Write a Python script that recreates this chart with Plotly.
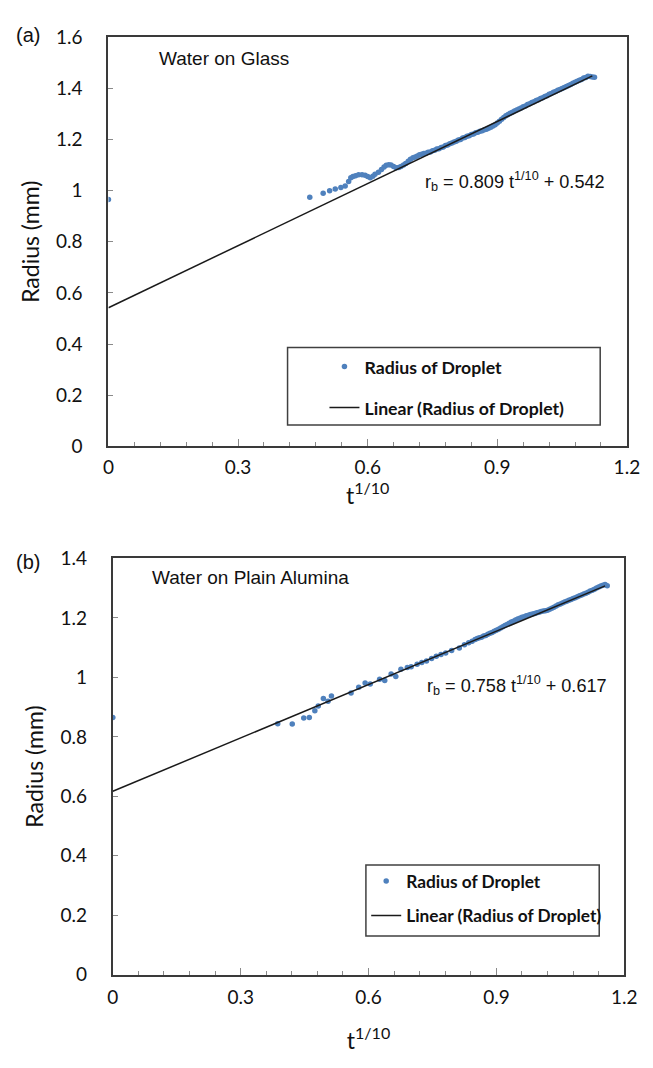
import plotly.graph_objects as go

# ---------------- data ----------------
# (a) Water on Glass
glass_x = [0.000, 0.466, 0.497, 0.512, 0.525, 0.538, 0.548, 0.556, 0.561, 0.566, 0.572,
           0.579, 0.587, 0.594, 0.600, 0.606, 0.612, 0.617, 0.625, 0.632, 0.638, 0.643,
           0.649, 0.654, 0.660, 0.666, 0.672, 0.677, 0.683, 0.688, 0.694, 0.699, 0.705,
           0.710, 0.715,
           0.720, 0.725, 0.730, 0.735, 0.740, 0.745, 0.750, 0.755, 0.760, 0.765, 0.770,
           0.775, 0.780, 0.785, 0.790, 0.795, 0.800, 0.805, 0.810, 0.815, 0.820, 0.825,
           0.830, 0.835, 0.840, 0.845, 0.850, 0.855, 0.860, 0.865, 0.870, 0.875, 0.880,
           0.885, 0.890, 0.895, 0.900, 0.905, 0.910, 0.915, 0.920, 0.925, 0.930, 0.935,
           0.940, 0.945, 0.950, 0.955, 0.960, 0.965, 0.970, 0.975, 0.980, 0.985, 0.990,
           0.995, 1.000, 1.005, 1.010, 1.015, 1.020, 1.025, 1.030, 1.035, 1.040, 1.045,
           1.050, 1.055, 1.060, 1.065, 1.070, 1.075, 1.080, 1.085, 1.090, 1.095, 1.100,
           1.105, 1.110, 1.115, 1.120, 1.125]
glass_r = [0.965, 0.974, 0.990, 0.999, 1.006, 1.012, 1.018, 1.035, 1.050, 1.055, 1.058,
           1.062, 1.062, 1.060, 1.055, 1.050, 1.056, 1.064, 1.072, 1.082, 1.092, 1.099,
           1.101, 1.100, 1.094, 1.089, 1.090, 1.094, 1.100, 1.106, 1.115, 1.122, 1.128,
           1.131, 1.135,
           1.140, 1.142, 1.145, 1.146, 1.150, 1.151, 1.156, 1.158, 1.162, 1.163, 1.168,
           1.170, 1.176, 1.178, 1.183, 1.186, 1.190, 1.193, 1.198, 1.200, 1.205, 1.207,
           1.212, 1.214, 1.219, 1.221, 1.226, 1.228, 1.232, 1.234, 1.238, 1.240, 1.244,
           1.247, 1.252, 1.257, 1.264, 1.271, 1.279, 1.286, 1.292, 1.297, 1.302, 1.306,
           1.311, 1.315, 1.319, 1.323, 1.328, 1.331, 1.336, 1.339, 1.344, 1.347, 1.352,
           1.355, 1.360, 1.363, 1.368, 1.371, 1.376, 1.379, 1.384, 1.387, 1.392, 1.395,
           1.399, 1.403, 1.407, 1.411, 1.415, 1.419, 1.423, 1.427, 1.431, 1.434, 1.440,
           1.442, 1.447, 1.446, 1.444, 1.443]
glass_fit_slope = 0.809
glass_fit_intercept = 0.542
glass_fit_x = [0.0, 1.12]

# (b) Water on Plain Alumina
alumina_x = [0.000, 0.387, 0.421, 0.448, 0.461, 0.474, 0.482, 0.494, 0.505, 0.513, 0.559,
             0.577, 0.592, 0.604, 0.626, 0.638, 0.653, 0.664, 0.676, 0.691, 0.700, 0.714,
             0.725, 0.736, 0.748, 0.759, 0.770, 0.781, 0.795, 0.813, 0.825, 0.835, 0.843,
             0.850, 0.855, 0.860, 0.865, 0.870, 0.875, 0.880, 0.885, 0.890, 0.895, 0.900,
             0.905, 0.910, 0.915, 0.920, 0.925, 0.930, 0.935, 0.940, 0.945, 0.950, 0.955,
             0.960, 0.965, 0.970, 0.975, 0.980, 0.985, 0.990, 0.995, 1.000, 1.005, 1.010,
             1.015, 1.020, 1.025, 1.030, 1.035, 1.040, 1.045, 1.050, 1.055, 1.060, 1.065,
             1.070, 1.075, 1.080, 1.085, 1.090, 1.095, 1.100, 1.105, 1.110, 1.115, 1.120,
             1.125, 1.130, 1.135, 1.140, 1.145, 1.150, 1.155, 1.160]
alumina_r = [0.865, 0.844, 0.843, 0.863, 0.865, 0.888, 0.904, 0.929, 0.920, 0.937, 0.947,
             0.967, 0.981, 0.978, 0.994, 0.989, 1.011, 1.003, 1.027, 1.033, 1.036, 1.044,
             1.050, 1.055, 1.063, 1.071, 1.077, 1.082, 1.090, 1.099, 1.110, 1.116, 1.121,
             1.127, 1.131, 1.133, 1.135, 1.139, 1.141, 1.145, 1.148, 1.151, 1.155, 1.158,
             1.162, 1.166, 1.170, 1.174, 1.178, 1.182, 1.186, 1.189, 1.193, 1.196, 1.199,
             1.202, 1.204, 1.207, 1.209, 1.211, 1.213, 1.215, 1.217, 1.219, 1.221, 1.223,
             1.224, 1.226, 1.229, 1.232, 1.236, 1.240, 1.244, 1.247, 1.250, 1.253, 1.256,
             1.259, 1.262, 1.265, 1.268, 1.271, 1.274, 1.277, 1.280, 1.283, 1.286, 1.290,
             1.293, 1.296, 1.300, 1.304, 1.307, 1.310, 1.312, 1.308]
alumina_fit_slope = 0.598
alumina_fit_intercept = 0.617
alumina_fit_x = [0.0, 1.155]

x_ticks = [0, 0.3, 0.6, 0.9, 1.2]
x_tick_labels = ["0", "0.3", "0.6", "0.9", "1.2"]
glass_y_ticks = [0, 0.2, 0.4, 0.6, 0.8, 1.0, 1.2, 1.4, 1.6]
glass_y_labels = ["0", "0.2", "0.4", "0.6", "0.8", "1", "1.2", "1.4", "1.6"]
alumina_y_ticks = [0, 0.2, 0.4, 0.6, 0.8, 1.0, 1.2, 1.4]
alumina_y_labels = ["0", "0.2", "0.4", "0.6", "0.8", "1", "1.2", "1.4"]

# ---------------- figure ----------------
W, H = 653, 1068
BLUE = "#4F81BD"
CAL = "Lato, Carlito, Calibri, sans-serif"
ARIAL = "Liberation Sans, Arial, sans-serif"


def px_x(p):
    return p / W


def px_y(p):
    return 1 - p / H


fig = go.Figure()

fig.add_trace(go.Scatter(
    x=glass_x, y=glass_r, mode="markers", name="Radius of Droplet",
    marker=dict(color=BLUE, size=5.5, line=dict(width=0)),
    xaxis="x", yaxis="y", legend="legend", legendgroup="a1"))
fig.add_trace(go.Scatter(
    x=glass_fit_x, y=[glass_fit_slope * v + glass_fit_intercept for v in glass_fit_x],
    mode="lines", name="Linear (Radius of Droplet)",
    line=dict(color="#1a1a1a", width=1.5),
    xaxis="x", yaxis="y", legend="legend", legendgroup="a2"))

fig.add_trace(go.Scatter(
    x=alumina_x, y=alumina_r, mode="markers", name="Radius of Droplet",
    marker=dict(color=BLUE, size=5.5, line=dict(width=0)),
    xaxis="x2", yaxis="y2", legend="legend2", legendgroup="b1"))
fig.add_trace(go.Scatter(
    x=alumina_fit_x, y=[alumina_fit_slope * v + alumina_fit_intercept for v in alumina_fit_x],
    mode="lines", name="Linear (Radius of Droplet)",
    line=dict(color="#1a1a1a", width=1.5),
    xaxis="x2", yaxis="y2", legend="legend2", legendgroup="b2"))

axis_common = dict(
    showgrid=False, zeroline=False, showline=True, mirror=True,
    linecolor="#3a3a3a", linewidth=2,
    ticks="inside", tickcolor="#8a8a8a", tickwidth=1.2,
    tickfont=dict(family=CAL, size=19, color="#111"),
)
minor_x = dict(dtick=0.06, tick0=0, ticks="inside", ticklen=4, tickcolor="#8a8a8a", tickwidth=1)
title_font = dict(family=CAL, size=23, color="#111")

fig.update_layout(
    width=W, height=H,
    margin=dict(l=0, r=0, t=0, b=0),
    paper_bgcolor="white", plot_bgcolor="white",
    showlegend=True,
    xaxis=dict(**axis_common, domain=[px_x(105.5), px_x(639.5)], range=[0, 1.2],
               tickvals=x_ticks, ticktext=x_tick_labels, ticklen=7, minor=minor_x,
               ticklabelstandoff=3,
               title=dict(text="t<sup>1/10</sup>", font=title_font, standoff=9),
               anchor="y"),
    yaxis=dict(**axis_common, domain=[px_y(444), px_y(25.6)], range=[0, 1.6],
               tickvals=glass_y_ticks, ticktext=glass_y_labels, ticklen=5,
               ticklabelstandoff=20,
               title=dict(text="Radius (mm)", font=title_font, standoff=10),
               anchor="x"),
    xaxis2=dict(**axis_common, domain=[px_x(110), px_x(636.8)], range=[0, 1.2],
                tickvals=x_ticks, ticktext=x_tick_labels, ticklen=7, minor=minor_x,
                ticklabelstandoff=4,
                title=dict(text="t<sup>1/10</sup>", font=title_font, standoff=26),
                anchor="y2"),
    yaxis2=dict(**axis_common, domain=[px_y(984), px_y(558.4)], range=[0, 1.4],
                tickvals=alumina_y_ticks, ticktext=alumina_y_labels, ticklen=5,
                ticklabelstandoff=20,
                title=dict(text="Radius (mm)", font=title_font, standoff=10),
                anchor="x2"),
    legend=dict(x=px_x(328), y=px_y(344), xanchor="left", yanchor="top",
                bgcolor="rgba(0,0,0,0)", borderwidth=0, tracegroupgap=15,
                itemwidth=30,
                font=dict(family=CAL, size=17.7, color="#111", weight="bold")),
    legend2=dict(x=px_x(371), y=px_y(870), xanchor="left", yanchor="top",
                 bgcolor="rgba(0,0,0,0)", borderwidth=0, tracegroupgap=9,
                 itemwidth=30,
                 font=dict(family=CAL, size=17.3, color="#111", weight="bold")),
)

# legend frames
fig.add_shape(type="rect", xref="paper", yref="paper",
              x0=px_x(290), x1=px_x(612), y0=px_y(422), y1=px_y(343),
              line=dict(color="#404040", width=1.5))
fig.add_shape(type="rect", xref="paper", yref="paper",
              x0=px_x(370.7), x1=px_x(611), y0=px_y(944.3), y1=px_y(871.7),
              line=dict(color="#404040", width=1.5))

ann_font = dict(family=ARIAL, size=19, color="#111")
eq_font = dict(family=ARIAL, size=18.1, color="#111")
fig.add_annotation(text="(a)", xref="paper", yref="paper", x=px_x(8), y=px_y(23),
                   xanchor="left", yanchor="middle", showarrow=False,
                   font=dict(family=ARIAL, size=20, color="#111"))
fig.add_annotation(text="(b)", xref="paper", yref="paper", x=px_x(8), y=px_y(562),
                   xanchor="left", yanchor="middle", showarrow=False,
                   font=dict(family=ARIAL, size=20, color="#111"))
fig.add_annotation(text="Water on Glass", xref="paper", yref="paper", x=px_x(156), y=px_y(48),
                   xanchor="left", yanchor="middle", showarrow=False, font=ann_font)
fig.add_annotation(text="Water on Plain Alumina", xref="paper", yref="paper", x=px_x(148),
                   y=px_y(578), xanchor="left", yanchor="middle", showarrow=False, font=ann_font)
fig.add_annotation(text="r<sub>b</sub> = 0.809 t<sup>1/10</sup> + 0.542", xref="paper",
                   yref="paper", x=px_x(430), y=px_y(173), xanchor="left", yanchor="middle",
                   showarrow=False, font=eq_font)
fig.add_annotation(text="r<sub>b</sub> = 0.758 t<sup>1/10</sup> + 0.617", xref="paper",
                   yref="paper", x=px_x(432), y=px_y(688), xanchor="left", yanchor="middle",
                   showarrow=False, font=eq_font)

fig.write_html("out.html")
